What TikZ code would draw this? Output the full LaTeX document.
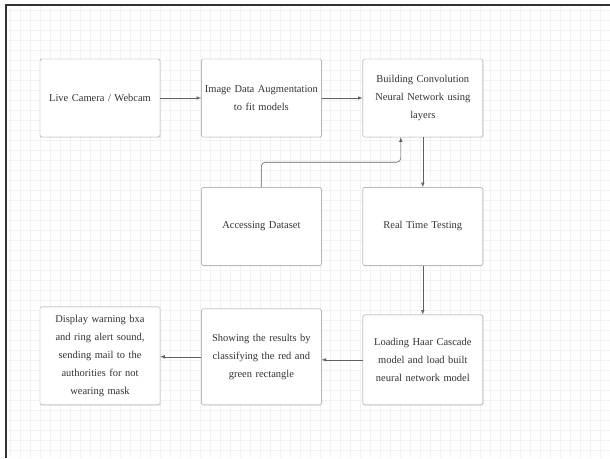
\documentclass[tikz,border=0pt]{standalone}
\usepackage{fontspec}
\setmainfont{Liberation Serif}
\usepackage{xcolor}
\usepackage{tikz}
\usetikzlibrary{shapes,arrows,positioning,shadows}
\definecolor{boxline}{RGB}{150,150,150}
\definecolor{flowline}{RGB}{95,95,95}
\definecolor{gridline}{RGB}{242,242,242}

\begin{document}
\begin{tikzpicture}[
    node distance=41pt,
    box/.style={rectangle, rounded corners=1.5pt, draw=boxline, fill=white,
                drop shadow={opacity=0.12, shadow xshift=1pt, shadow yshift=-1pt},
                minimum width=120pt, minimum height=78pt, text width=118pt,
                align=center, inner sep=1pt, text=black!80,
                font=\fontsize{10.5}{18}\selectfont},
    arrow/.style={->, >=latex, semithick, color=flowline}
  ]
    % page and grid
    \useasboundingbox (0,0) rectangle (610pt,-458pt);
    \fill[white] (0,0) rectangle (610pt,-458pt);
    \draw[gridline, step=10pt] (6pt,-6pt) grid (610pt,-458pt);
    \draw[black!80, line width=2.5pt] (6pt,-458pt) -- (6pt,-5pt) -- (610pt,-5pt);

    \node[box] (camera) at (100pt,-98pt) {Live Camera / Webcam};

    \node[box, right=of camera] (augment)
      {Image Data Augmentation\\to fit models};

    \node[box, right=of augment] (cnn)
      {Building Convolution\\Neural Network using\\layers};

    \node[box, below=50pt of cnn] (testing) {Real Time Testing};

    \node[box, left=of testing] (dataset) {Accessing Dataset};

    \node[box, minimum height=90pt, below=49pt of testing] (haar)
      {Loading Haar Cascade\\model and load built\\neural network model};

    \node[box, minimum height=96pt, anchor=south east]
      at ([xshift=-41pt]haar.south west) (results)
      {Showing the results by\\classifying the red and\\green rectangle};

    \node[box, minimum height=98pt, anchor=south east]
      at ([xshift=-41pt]results.south west) (alert)
      {Display warning bxa\\and ring alert sound,\\sending mail to the\\authorities for not\\wearing mask};

    \draw[arrow] (camera) -- (augment);
    \draw[arrow] (augment) -- (cnn);
    \draw[arrow] (cnn) -- (testing);
    \draw[arrow, rounded corners=4pt] (dataset.north) -- ++(0,25pt)
      -| ([xshift=-22pt]cnn.south);
    \draw[arrow] (testing) -- (haar);
    \draw[arrow] (haar.west) -- (haar.west -| results.east);
    \draw[arrow] (results.west) -- (results.west -| alert.east);
  \end{tikzpicture}
\end{document}
